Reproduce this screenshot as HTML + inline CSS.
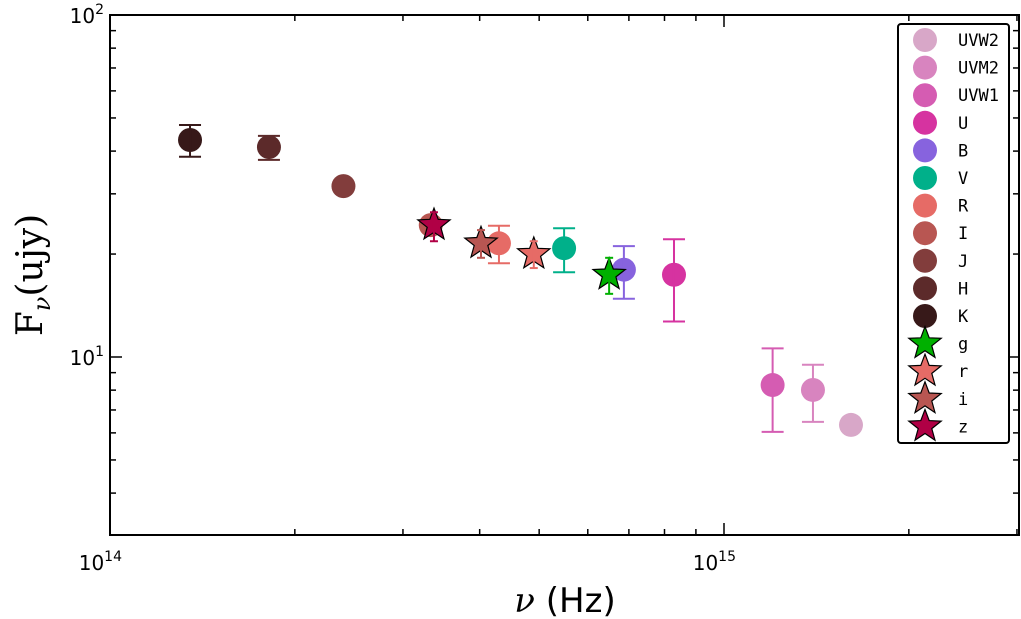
<!DOCTYPE html>
<html><head><meta charset="utf-8"><style>body{margin:0;background:#fff}svg{display:block}</style></head>
<body>
<svg id="c" width="1021" height="619" style="font-family:'DejaVu Sans','Liberation Sans',sans-serif"></svg>
<script>
const bands=["UVW2","UVM2","UVW1","U","B","V","R","I","J","H","K"];
const bandFreq=[1.61e15,1.396e15,1.20e15,8.29e14,6.87e14,5.49e14,4.30e14,3.33e14,2.40e14,1.815e14,1.35e14];
const bandFlux=[6.33,8.01,8.28,17.4,18.0,20.8,21.5,24.3,31.6,41.1,43.1];
const bandErrLo=[6.33,6.46,6.04,12.7,14.8,17.7,18.8,24.3,31.6,37.7,38.5];
const bandErrHi=[6.33,9.49,10.6,22.1,21.1,23.8,24.2,24.3,31.6,44.3,47.7];
const bandColors=["#d8a7c8","#d884bf","#d55cb2","#d633a0","#8763de","#00b08a","#e66b66","#b85652","#823d3c","#5c2a2a","#371919"];
const stars=["g","r","i","z"];
const starFreq=[6.50e14,4.90e14,4.02e14,3.37e14];
const starFlux=[17.4,20.0,21.5,24.3];
const starErrLo=[15.3,18.2,19.5,21.8];
const starErrHi=[19.5,21.8,23.5,26.5];
const starColors=["#00b000","#e66b66","#b85652","#b00045"];
const L=110,R=1019,T=15,B=535;
const xs=v=>L+614*Math.log10(v/1e14);
const ys=f=>T+342*(2-Math.log10(f));
const svg=document.getElementById('c');const NS="http://www.w3.org/2000/svg";
function mk(t,a,p){const e=document.createElementNS(NS,t);for(const k in a)e.setAttribute(k,a[k]);(p||svg).appendChild(e);return e;}
const tg=mk('g',{});


for(let d=14;d<=15;d++)for(let m=1;m<=9;m++){const v=m*Math.pow(10,d);const x=xs(v);if(x<L-0.5||x>R+0.5)continue;const len=m==1?12:6;
mk('line',{x1:x,y1:B,x2:x,y2:B-len,stroke:'#000','stroke-width':1.5},tg);mk('line',{x1:x,y1:T,x2:x,y2:T+len,stroke:'#000','stroke-width':1.5},tg);}
for(let d=0;d<=1;d++)for(let m=1;m<=9;m++){const f=m*Math.pow(10,d);const y=ys(f);if(y>B+0.5||y<T-0.5)continue;const len=m==1?12:6;
mk('line',{x1:L,y1:y,x2:L+len,y2:y,stroke:'#000','stroke-width':1.5},tg);mk('line',{x1:R,y1:y,x2:R-len,y2:y,stroke:'#000','stroke-width':1.5},tg);}
mk('line',{x1:L,y1:ys(100),x2:L+12,y2:ys(100),stroke:'#000','stroke-width':1.5},tg);
function lab(x,y,base,exp,name){const t=mk('text',{x:x,y:y,'font-size':20,'text-anchor':'end'});t.textContent=base;const s=mk('tspan',{dy:-9,'font-size':14},t);s.textContent=exp;}
lab(xs(1e14)+12,570,'10','14','x-tick-1e14');
lab(xs(1e15)+12,570,'10','15','x-tick-1e15');
lab(104,ys(100)+8,'10','2','y-tick-1e2');
lab(104,ys(10)+8,'10','1','y-tick-1e1');
function err(x,lo,hi,c,cap){if(Math.abs(ys(lo)-ys(hi))<1)return;mk('line',{x1:x,y1:ys(lo),x2:x,y2:ys(hi),stroke:c,'stroke-width':2});mk('line',{x1:x-cap,y1:ys(lo),x2:x+cap,y2:ys(lo),stroke:c,'stroke-width':2});mk('line',{x1:x-cap,y1:ys(hi),x2:x+cap,y2:ys(hi),stroke:c,'stroke-width':2});}
function starPts(cx,cy,r){let p=[];for(let i=0;i<10;i++){const a=-Math.PI/2+i*Math.PI/5;const rr=i%2?r*0.42:r;p.push((cx+rr*Math.cos(a)).toFixed(1)+','+(cy+rr*Math.sin(a)).toFixed(1));}return p.join(' ');}
for(let i=bands.length-1;i>=0;i--){const g=mk('g',{});


const x=xs(bandFreq[i]);err(x,bandErrLo[i],bandErrHi[i],bandColors[i],11);
mk('circle',{cx:x,cy:ys(bandFlux[i]),r:12,fill:bandColors[i]},g);}
for(let i=0;i<stars.length;i++){const g=mk('g',{});


const x=xs(starFreq[i]);err(x,starErrLo[i],starErrHi[i],starColors[i],4);
mk('polygon',{points:starPts(x,ys(starFlux[i]),17),fill:starColors[i],stroke:'#000','stroke-width':1.2},g);}
const fr=mk('rect',{x:L,y:T,width:R-L,height:B-T,fill:'none',stroke:'#000','stroke-width':2});


const lg=mk('g',{});


mk('rect',{x:898,y:24,width:111,height:419,rx:3,fill:'#fff',stroke:'#000','stroke-width':2},lg);
const names=bands.concat(stars);
names.forEach((n,i)=>{const y=40+27.6*i;const e=mk('g',{},lg);


if(i<bands.length)mk('circle',{cx:925,cy:y,r:12,fill:bandColors[i]},e);
else mk('polygon',{points:starPts(925,y,17),fill:starColors[i-bands.length],stroke:'#000','stroke-width':1.2},e);
const t=mk('text',{x:958,y:y+6,'font-size':17,style:"font-family:'DejaVu Sans Mono','Liberation Mono',monospace"},e);t.textContent=n;});
const xt=mk('text',{x:565,y:612,'font-size':34,'text-anchor':'middle'});


const s1=mk('tspan',{style:"font-family:'DejaVu Serif','Liberation Serif',serif;font-style:italic"},xt);s1.textContent='ν';const s2=mk('tspan',{},xt);s2.textContent=' (Hz)';
const yt=mk('text',{x:0,y:0,'font-size':36,'text-anchor':'middle',style:"font-family:'DejaVu Serif','Liberation Serif',serif",transform:'translate(42,275) rotate(-90)'});


const a=mk('tspan',{},yt);a.textContent='F';const b=mk('tspan',{dy:8,'font-size':24,'font-style':'italic'},yt);b.textContent='ν';const c=mk('tspan',{dy:-8},yt);c.textContent='(ujy)';
</script>
</body></html>
